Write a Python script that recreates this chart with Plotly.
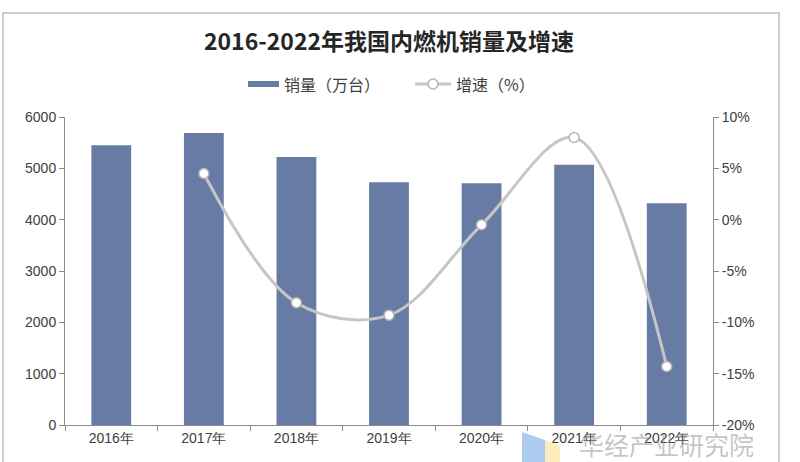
import plotly.graph_objects as go

years = ["2016年", "2017年", "2018年", "2019年", "2020年", "2021年", "2022年"]
sales = [5450, 5690, 5220, 4730, 4710, 5070, 4320]
growth_years = ["2017年", "2018年", "2019年", "2020年", "2021年", "2022年"]
growth = [4.5, -8.1, -9.3, -0.5, 8.0, -14.3]
left_ticks = [0, 1000, 2000, 3000, 4000, 5000, 6000]
right_ticks = [-20, -15, -10, -5, 0, 5, 10]
right_labels = ["-20%", "-15%", "-10%", "-5%", "0%", "5%", "10%"]

W, H = 800, 462
L, R, T, B = 65, 87, 117, 37
pw, ph = W - L - R, H - T - B

BAR_COLOR = "#687BA4"
LINE_COLOR = "#C6C6C6"

def px(x):
    return (x - L) / pw

def py(y):
    return (H - B - y) / ph

fig = go.Figure()
fig.add_trace(go.Bar(
    x=years, y=sales, name="销量（万台）",
    marker=dict(color=BAR_COLOR, line=dict(width=0)),
    width=0.43, yaxis="y", showlegend=False,
))
fig.add_trace(go.Scatter(
    x=growth_years, y=growth, name="增速（%）", yaxis="y2",
    mode="lines+markers", showlegend=False,
    line=dict(color=LINE_COLOR, width=3, shape="spline", smoothing=1.0),
    marker=dict(size=10, color="white", line=dict(color="#B4B4B4", width=1.5)),
))

tick_font = dict(family="Liberation Sans, Arial", size=14, color="#404040")
fig.update_layout(
    width=W, height=H,
    margin=dict(l=L, r=R, t=T, b=B),
    paper_bgcolor="white", plot_bgcolor="white",
    title=dict(text="<b>2016-2022年我国内燃机销量及增速</b>", x=0.5 * (L + (W - R)) / W, xanchor="center",
               y=1 - 42 / H, yanchor="middle",
               font=dict(family="Noto Sans CJK SC", size=23, color="#262626")),
    showlegend=False,
    xaxis=dict(showline=True, linecolor="#8C8C8C", linewidth=1,
               ticks="outside", tickson="boundaries", ticklen=5, tickcolor="#8C8C8C",
               tickfont=dict(family="Liberation Sans, Arial", size=14, color="#404040"),
               showgrid=False),
    yaxis=dict(range=[0, 6000], tickvals=left_ticks, showline=True, linecolor="#8C8C8C",
               linewidth=1, ticks="outside", ticklen=5, tickcolor="#8C8C8C",
               tickfont=tick_font, showgrid=False, zeroline=False),
    yaxis2=dict(range=[-20, 10], tickvals=right_ticks, ticktext=right_labels,
                overlaying="y", side="right",
                showline=True, linecolor="#8C8C8C", linewidth=1, ticks="outside", ticklen=5,
                tickcolor="#8C8C8C", tickfont=tick_font, showgrid=False, zeroline=False),
)

# frame around the chart
fig.add_shape(type="rect", xref="paper", yref="paper",
              x0=px(3), x1=px(779), y0=py(475), y1=py(13),
              line=dict(color="#BDBDBD", width=1.5), fillcolor="rgba(0,0,0,0)", layer="below")

# custom legend
fig.add_shape(type="rect", xref="paper", yref="paper",
              x0=px(248), x1=px(279), y0=py(87), y1=py(81),
              fillcolor=BAR_COLOR, line=dict(width=0))
fig.add_annotation(text="销量（万台）", xref="paper", yref="paper", x=px(282), y=py(84),
                   xanchor="left", yanchor="middle", showarrow=False,
                   font=dict(family="Noto Sans CJK SC", size=16, color="#404040"))
fig.add_shape(type="line", xref="paper", yref="paper",
              x0=px(415), x1=px(451), y0=py(84), y1=py(84),
              line=dict(color=LINE_COLOR, width=3))
fig.add_shape(type="circle", xref="paper", yref="paper",
              x0=px(428), x1=px(438), y0=py(89), y1=py(79),
              fillcolor="white", line=dict(color="#B4B4B4", width=1.5))
fig.add_annotation(text="增速（%）", xref="paper", yref="paper", x=px(454), y=py(84),
                   xanchor="left", yanchor="middle", showarrow=False,
                   font=dict(family="Noto Sans CJK SC", size=16, color="#404040"))

# watermark logo and text
fig.add_shape(type="path", xref="paper", yref="paper",
              path=f"M {px(522)} {py(432)} L {px(545)} {py(440)} L {px(545)} {py(470)} L {px(522)} {py(470)} Z",
              fillcolor="rgba(120,170,230,0.6)", line=dict(width=0))
fig.add_shape(type="path", xref="paper", yref="paper",
              path=f"M {px(545)} {py(440)} L {px(560)} {py(445)} L {px(560)} {py(470)} L {px(545)} {py(470)} Z",
              fillcolor="rgba(250,225,140,0.6)", line=dict(width=0))
fig.add_annotation(text="华经产业研究院", xref="paper", yref="paper",
                   x=px(756), y=py(444), xanchor="right", yanchor="middle", showarrow=False,
                   font=dict(family="Noto Sans CJK SC", size=25, color="rgba(140,140,140,0.5)"))

fig.write_html("out.html", config={"displayModeBar": False},
               post_script="document.body.style.margin='0';document.body.style.overflow='hidden';")
